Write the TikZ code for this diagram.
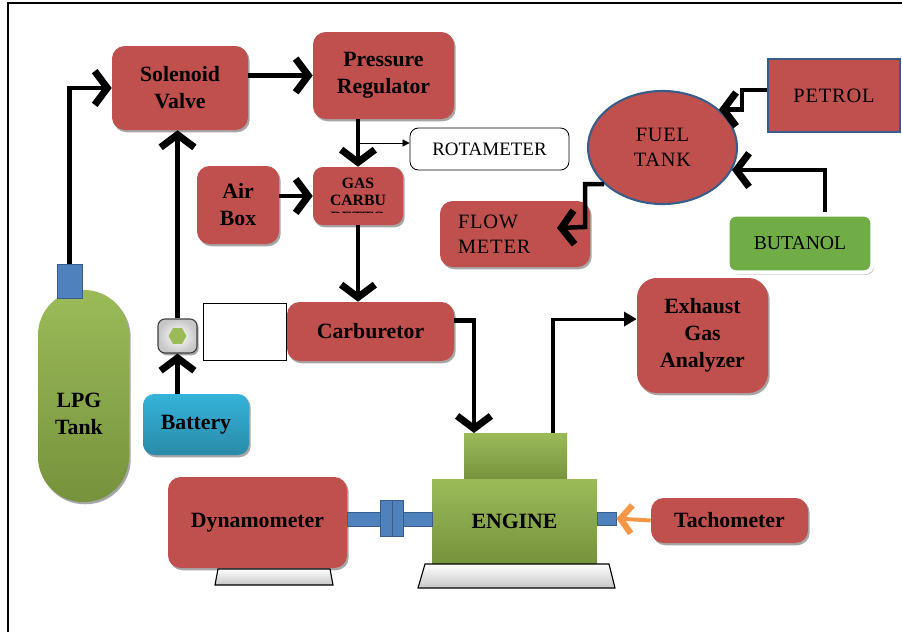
\documentclass[tikz,border=0pt]{standalone}
\usepackage{fontspec}
\setmainfont{Liberation Serif}
\usetikzlibrary{arrows.meta,shapes.geometric,shadows}
\definecolor{boxred}{HTML}{C0504D}
\definecolor{edgeblue}{HTML}{385D8A}
\definecolor{partblue}{HTML}{4F81BD}
\definecolor{lightgreen}{HTML}{9BBB59}
\definecolor{darkgreen}{HTML}{76923C}
\definecolor{leafgreen}{HTML}{70AD47}
\definecolor{skyblue}{HTML}{35B3DA}
\definecolor{deepsky}{HTML}{2A8AA8}
\definecolor{tachorange}{HTML}{F79646}

\begin{document}
\begin{tikzpicture}[x=0.025cm, y=-0.025cm,
  sz/.style 2 args={minimum width=#1*0.025cm, minimum height=#2*0.025cm},
  shadowed/.style={drop shadow={shadow xshift=1.2pt, shadow yshift=-1.6pt, opacity=0.35, fill=black}},
  bold/.style={font=\fontsize{15.5}{19.2}\selectfont\bfseries, align=center},
  plain/.style={font=\fontsize{14}{17.8}\selectfont, align=center},
  spaced/.style={font=\fontsize{14.5}{17.8}\selectfont\addfontfeature{LetterSpace=4}, align=center},
  redbox/.style={bold, fill=boxred, rounded corners=9pt, inner sep=0pt, shadowed},
  greenpart/.style={top color=lightgreen, bottom color=darkgreen, inner sep=0pt},
  bluepart/.style={fill=partblue, draw=edgeblue, line width=0.6pt, inner sep=0pt},
  blankbox/.style={draw, fill=white, line width=0.6pt, inner sep=0pt},
  pipe/.style={line width=3.2pt, -{Straight Barb[length=9pt,width=24pt,line width=5pt]}},
  wire/.style={line width=0.6pt, -{Triangle[length=5pt,width=5pt]}},
  basestyle/.style={draw, line width=0.8pt, top color=white, bottom color=black!22},
]
\useasboundingbox (0,0) rectangle (902,632);
\draw[line width=1.2pt] (8,632) -- (8,3) -- (902,3);

\node[redbox, sz={136}{84}] (sv) at (180,88) {Solenoid\\Valve};
\node[redbox, sz={141}{87}] (pr) at (383.5,75.5) {Pressure\\Regulator};
\node[blankbox, rounded corners=6pt, sz={159}{42}, font=\fontsize{13.5}{16}\selectfont] (rm) at (489.5,149) {ROTAMETER};
\node[redbox, sz={90}{58}, rounded corners=7pt] (gc) at (358,196) {};
\begin{scope}
  \clip (gc.north west) rectangle ([yshift=9pt]gc.south east);
  \node[font=\fontsize{11.2}{12}\selectfont\bfseries, align=center] (gct) at ([yshift=-3pt]gc.center) {GAS\\CARBU\\RETTO};
\end{scope}
\node[redbox, sz={82}{78}] (ab) at (238,205) {Air\\Box};
\node[redbox, sz={167}{59}] (cb) at (370.5,331.5) {Carburetor};
\node[blankbox, sz={83}{57}] (bl) at (244.5,331.5) {};
\node[draw=black!75, line width=0.8pt, rounded corners=5pt, inner color=white, outer color=black!22, sz={39}{34}, shadowed] (sw) at (177.5,336) {};
\node[regular polygon, regular polygon sides=6, fill=lightgreen, inner sep=0pt, minimum size=0.45cm] (hx) at (sw) {};

\node[greenpart, rounded corners=32pt, sz={91}{212}, shadowed] (lt) at (83.5,396) {};
\node[bold] (ltt) at (79,414) {LPG\\Tank};
\node[bluepart, sz={25}{34}] (lv) at (69.5,281) {};
\node[bold, top color=skyblue, bottom color=deepsky, rounded corners=8pt, inner sep=0pt, sz={106}{61}, shadowed] (bt) at (196,424.5) {Battery};

\node[ellipse, spaced, fill=boxred, draw=edgeblue, line width=1.5pt, inner sep=0pt, sz={149}{113}] (ft) at (662.5,147.5) {FUEL\\TANK};
\node[spaced, fill=boxred, draw=edgeblue, line width=1.5pt, inner sep=0pt, sz={132}{73}] (pt) at (834,95.5) {PETROL};
\node[plain, fill=leafgreen, draw=white, line width=3pt, rounded corners=6pt, inner sep=0pt, sz={145}{58}, shadowed] (bu) at (800,243.5) {BUTANOL};
\node[redbox, spaced, align=left, inner xsep=12.8pt, text width=81pt, sz={150}{66}] (fm) at (515,234) {FLOW\\METER};
\node[redbox, rounded corners=14pt, sz={131}{115}] (ex) at (702.5,335.5) {Exhaust\\Gas\\Analyzer};

\node[greenpart, sz={103}{47}] (et) at (515.5,456.5) {};
\node[greenpart, bold, sz={165}{85}] (en) at (514.5,521.5) {ENGINE};
\node[redbox, sz={157}{45}] (tc) at (729.5,520.5) {Tachometer};
\node[bluepart, sz={19}{13}] (ts) at (606.5,518.5) {};
\node[redbox, sz={179}{91}] (dy) at (257.5,522.5) {Dynamometer};
\node[bluepart, sz={85}{14}] (sh) at (389.5,519) {};
\node[bluepart, sz={12}{36}] (cp1) at (386,518) {};
\node[bluepart, sz={11}{36}] (cp2) at (397.5,518) {};
\shade[basestyle] (218,569) -- (330,569) -- (333,585) -- (215,585) -- cycle;
\shade[basestyle] (425,564) -- (609,564) -- (615,588) -- (418,588) -- cycle;

\coordinate (tap) at (358,143);
\coordinate (ein) at (474,433);
\coordinate (eout) at (553,433);
\coordinate (fmtip) at (557,228);

\draw[pipe] (lv.north) |- (sv.west);
\draw[pipe] (sv.east |- pr.west) -- (pr.west);
\draw[pipe] (gc.north |- pr.south) -- (gc.north);
\draw[wire] (tap) -- (tap -| rm.west);
\draw[pipe] (ab.east |- gc.west) -- (gc.west);
\draw[pipe] (gc.south) -- (gc.south |- cb.north);
\draw[pipe] (sw.north) -- (sw.north |- sv.south);
\draw[pipe] (sw.south |- bt.north) -- (sw.south);
\draw[pipe] ([yshift=8pt]cb.east) -| (ein);
\draw[line width=2.2pt, -{Triangle[length=9pt,width=10pt]}] (eout) |- ([yshift=11.7pt]ex.west);
\draw[pipe] (ft.212) -| ++(-19,43) -- (fmtip);
\draw[pipe] ([yshift=3.9pt]pt.west) -- ++(-25,0) |- (ft.34);
\draw[pipe] ([xshift=17.8pt]bu.north) |- (ft.342);
\draw[line width=2.8pt, tachorange, -{Straight Barb[length=8pt,width=20pt,line width=4.4pt]}] (tc.west) -- (ts.east);
\end{tikzpicture}
\end{document}
